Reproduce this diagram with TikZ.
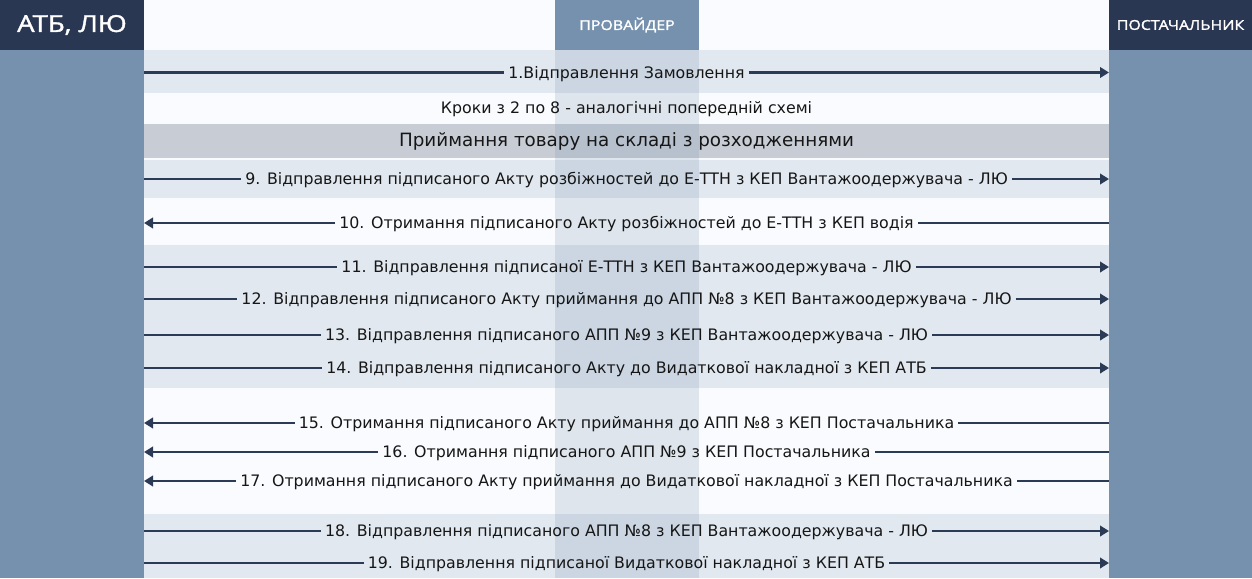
\documentclass[tikz,border=0pt]{standalone}
\usepackage{fontspec}
\setmainfont{DejaVu Sans}
\newfontfamily\headfont[FakeStretch=1.18,FakeBold=1.6]{Open Sans}
\usetikzlibrary{arrows.meta}
\definecolor{navy}{HTML}{2A3753}
\definecolor{steel}{HTML}{7691AD}
\definecolor{bandc}{HTML}{E1E8F0}
\definecolor{grayband}{HTML}{C8CDD5}
\definecolor{paper}{HTML}{F9FBFE}
\definecolor{ink}{HTML}{161616}
\definecolor{arrowc}{HTML}{2B3A55}
\begin{document}
\begin{tikzpicture}[x=1pt,y=-1pt,
  msgtext/.style={font=\fontsize{15.8}{18}\selectfont, text=ink, inner xsep=4pt, inner ysep=0pt, text height=12pt, text depth=1pt},
  msgline/.style={draw=arrowc, line width=2.5pt},
  msgarrow/.style={msgline, -{Triangle[length=9pt,width=10.5pt]}},
  headbox/.style={inner sep=0pt, text=white},
  band/.style={fill=bandc},
]
\useasboundingbox (0,0) rectangle (1252,578);
% background and bands
\fill[paper] (0,0) rectangle (1252,578);
\fill[band] (144,50) rectangle (1109,93);
\fill[grayband] (144,124) rectangle (1109,157.5);
\fill[band] (144,160) rectangle (1109,198);
\fill[band] (144,245) rectangle (1109,388);
\fill[band] (144,514) rectangle (1109,578);
% provider column overlay
\fill[steel, fill opacity=0.2] (555,50) rectangle (699,578);
% side columns
\fill[steel] (0,50) rectangle (144,578);
\fill[steel] (1109,50) rectangle (1252,578);
% headers
\node[headbox, fill=navy, minimum width=144pt, minimum height=50pt, font=\headfont\fontsize{23.3}{26}\selectfont] (atb) at (72,25) {АТБ, ЛЮ};
\node[headbox, fill=steel, minimum width=144pt, minimum height=50pt, font=\headfont\fontsize{13.5}{16}\selectfont] (prov) at (627,25) {ПРОВАЙДЕР};
\node[headbox, fill=navy, minimum width=143pt, minimum height=50pt, font=\headfont\fontsize{13.5}{16}\selectfont] (post) at (1180.5,25) {ПОСТАЧАЛЬНИК};
\coordinate (L) at (144,0);
\coordinate (R) at (1109,0);
% texts
\node[msgtext] (m1) at (626.5,72.5) {1.Відправлення Замовлення};
\node[msgtext] (steps) at (626.5,108) {Кроки з 2 по 8 - аналогічні попередній схемі};
\node[msgtext, font=\fontsize{18.3}{21}\selectfont] (accept) at (626.5,141) {Приймання товару на складі з розходженнями};
\node[msgtext] (m9) at (626.5,179) {9. Відправлення підписаного Акту розбіжностей до Е-ТТН з КЕП Вантажоодержувача - ЛЮ};
\node[msgtext] (m10) at (626.5,223) {10. Отримання підписаного Акту розбіжностей до Е-ТТН з КЕП водія};
\node[msgtext] (m11) at (626.5,267) {11. Відправлення підписаної Е-ТТН з КЕП Вантажоодержувача - ЛЮ};
\node[msgtext] (m12) at (626.5,299) {12. Відправлення підписаного Акту приймання до АПП №8 з КЕП Вантажоодержувача - ЛЮ};
\node[msgtext] (m13) at (626.5,335) {13. Відправлення підписаного АПП №9 з КЕП Вантажоодержувача - ЛЮ};
\node[msgtext] (m14) at (626.5,368) {14. Відправлення підписаного Акту до Видаткової накладної з КЕП АТБ};
\node[msgtext] (m15) at (626.5,423) {15. Отримання підписаного Акту приймання до АПП №8 з КЕП Постачальника};
\node[msgtext] (m16) at (626.5,452) {16. Отримання підписаного АПП №9 з КЕП Постачальника};
\node[msgtext] (m17) at (626.5,481) {17. Отримання підписаного Акту приймання до Видаткової накладної з КЕП Постачальника};
\node[msgtext] (m18) at (626.5,531) {18. Відправлення підписаного АПП №8 з КЕП Вантажоодержувача - ЛЮ};
\node[msgtext] (m19) at (626.5,563) {19. Відправлення підписаної Видаткової накладної з КЕП АТБ};
% rightward messages
\foreach \m in {m1,m9,m11,m12,m13,m14,m18,m19} {
  \draw[msgline] (\m.west -| L) -- (\m.west);
  \draw[msgarrow] (\m.east) -- (\m.east -| R);
}
% leftward messages
\foreach \m in {m10,m15,m16,m17} {
  \draw[msgline] (\m.east -| R) -- (\m.east);
  \draw[msgarrow] (\m.west) -- (\m.west -| L);
}
\end{tikzpicture}
\end{document}
